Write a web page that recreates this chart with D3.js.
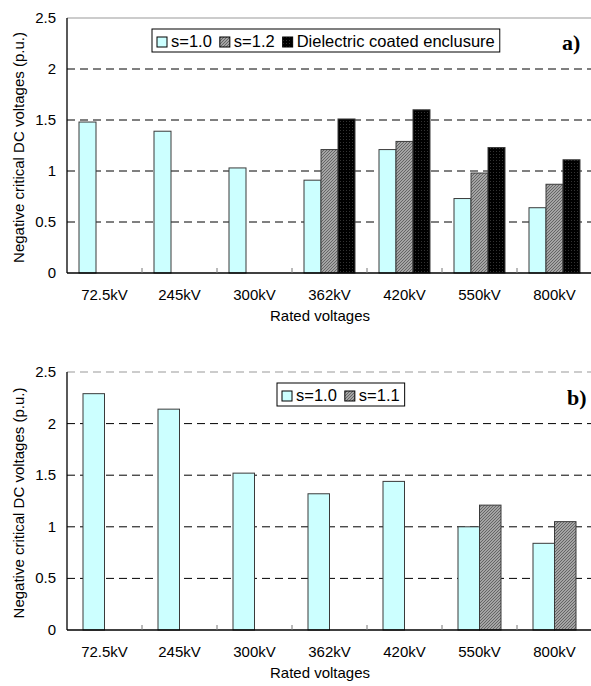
<!DOCTYPE html>
<html>
<head>
<meta charset="utf-8">
<script src="https://cdn.jsdelivr.net/npm/d3@7"></script>
<style>
  body { margin: 0; background: #fff; }
  svg { display: block; font-family: "Liberation Sans", Arial, sans-serif; }
</style>
</head>
<body>
<div id="chart"></div>
<script>
// Data
const categories = ["72.5kV", "245kV", "300kV", "362kV", "420kV", "550kV", "800kV"];
const yTicks = [0, 0.5, 1, 1.5, 2, 2.5];

// panel a)
const aSeries = ["s=1.0", "s=1.2", "Dielectric coated enclusure"];
const aS10 = [1.48, 1.39, 1.03, 0.91, 1.21, 0.73, 0.64];
const aS12 = [null, null, null, 1.21, 1.29, 0.98, 0.87];
const aCoated = [null, null, null, 1.51, 1.60, 1.23, 1.11];

// panel b)
const bSeries = ["s=1.0", "s=1.1"];
const bS10 = [2.29, 2.14, 1.52, 1.32, 1.44, 1.00, 0.84];
const bS11 = [null, null, null, null, null, 1.21, 1.05];

const width = 591, height = 686;

const svg = d3.select("#chart")
  .append("svg")
  .attr("width", width)
  .attr("height", height);

// fill patterns
const defs = svg.append("defs");
const hatch = defs.append("pattern")
  .attr("id", "hatch")
  .attr("patternUnits", "userSpaceOnUse")
  .attr("width", 3).attr("height", 3);
hatch.append("rect").attr("width", 3).attr("height", 3).attr("fill", "#a4a4a4");
hatch.append("path")
  .attr("d", "M-1,1 l2,-2 M0,3 l3,-3 M2,4 l2,-2")
  .attr("stroke", "#555")
  .attr("stroke-width", 0.8);

const dots = defs.append("pattern")
  .attr("id", "dots")
  .attr("patternUnits", "userSpaceOnUse")
  .attr("width", 3).attr("height", 3);
dots.append("rect").attr("width", 3).attr("height", 3).attr("fill", "#000");
dots.append("rect").attr("x", 1).attr("y", 1).attr("width", 1).attr("height", 1).attr("fill", "#333");

const fills = ["#ccffff", "url(#hatch)", "url(#dots)"];

function drawPanel(opts) {
  const g = svg.append("g");
  const x = d3.scaleBand().domain(categories).range([67, 592]);
  const y = d3.scaleLinear().domain([0, 2.5]).range([opts.bottom, opts.top]);

  // grid lines
  g.selectAll(".grid")
    .data(yTicks.filter(d => d > 0 && d < 2.5))
    .enter().append("line")
    .attr("x1", 67).attr("x2", width)
    .attr("y1", d => y(d)).attr("y2", d => y(d))
    .attr("stroke", "#000")
    .attr("stroke-width", 1)
    .attr("stroke-dasharray", "8,5");

  // top border
  g.append("line")
    .attr("x1", 67).attr("x2", width)
    .attr("y1", y(2.5)).attr("y2", y(2.5))
    .attr("stroke", "#999")
    .attr("stroke-width", 1.2)
    .attr("stroke-dasharray", opts.dashedTop ? "8,5" : null);

  // bars
  const groupW = opts.groupW;
  const x1 = d3.scaleBand()
    .domain(d3.range(opts.values.length))
    .range([(x.bandwidth() - groupW) / 2, (x.bandwidth() + groupW) / 2]);

  opts.values.forEach((vals, si) => {
    g.selectAll(".bar" + si)
      .data(vals.map((v, i) => ({ v, c: categories[i] })).filter(d => d.v != null))
      .enter().append("rect")
      .attr("x", d => x(d.c) + x1(si))
      .attr("y", d => y(d.v))
      .attr("width", x1.bandwidth())
      .attr("height", d => y(0) - y(d.v))
      .attr("fill", fills[si])
      .attr("stroke", "#3a3a3a")
      .attr("stroke-width", 1);
  });

  // axes
  g.append("line")
    .attr("x1", 67).attr("x2", 67)
    .attr("y1", y(2.5)).attr("y2", y(0))
    .attr("stroke", "#000").attr("stroke-width", 1.3);
  g.append("line")
    .attr("x1", 67).attr("x2", width)
    .attr("y1", y(0)).attr("y2", y(0))
    .attr("stroke", "#000").attr("stroke-width", 1.3);

  // category separators (inward ticks)
  g.selectAll(".ctick")
    .data(categories.slice(1))
    .enter().append("line")
    .attr("x1", d => x(d)).attr("x2", d => x(d))
    .attr("y1", y(0)).attr("y2", y(0) - 5)
    .attr("stroke", "#777").attr("stroke-width", 1);

  // y tick labels
  g.selectAll(".ylab")
    .data(yTicks)
    .enter().append("text")
    .attr("x", 56)
    .attr("y", d => y(d) + 5)
    .attr("text-anchor", "end")
    .attr("font-size", 15)
    .text(d => d);

  // x tick labels
  g.selectAll(".xlab")
    .data(categories)
    .enter().append("text")
    .attr("x", d => x(d) + x.bandwidth() / 2)
    .attr("y", y(0) + 27)
    .attr("text-anchor", "middle")
    .attr("font-size", 15)
    .text(d => d);

  // axis titles
  g.append("text")
    .attr("transform", `translate(24,${(y(0) + y(2.5)) / 2 + 2}) rotate(-90)`)
    .attr("text-anchor", "middle")
    .attr("font-size", 15)
    .text("Negative critical DC voltages (p.u.)");
  g.append("text")
    .attr("x", 320)
    .attr("y", y(0) + 48)
    .attr("text-anchor", "middle")
    .attr("font-size", 15)
    .text("Rated voltages");

  // panel label
  g.append("text")
    .attr("x", opts.labelX)
    .attr("y", y(2.5) + opts.labelDy)
    .attr("font-family", "'Liberation Serif', 'Times New Roman', serif")
    .attr("font-weight", "bold")
    .attr("font-size", 22)
    .text(opts.label);

  // legend
  const lg = g.append("g");
  const box = lg.append("rect")
    .attr("fill", "#fff")
    .attr("stroke", "#000")
    .attr("stroke-width", 1);
  let cx = opts.legendX + 5;
  const ly = opts.legendY;
  opts.series.forEach((name, si) => {
    lg.append("rect")
      .attr("x", cx).attr("y", ly + 8)
      .attr("width", 10).attr("height", 10)
      .attr("fill", fills[si])
      .attr("stroke", "#000").attr("stroke-width", 1);
    const t = lg.append("text")
      .attr("x", cx + 14).attr("y", ly + 18)
      .attr("font-size", 16.5)
      .text(name);
    cx += 14 + t.node().getComputedTextLength() + 8;
  });
  box.attr("x", opts.legendX).attr("y", ly)
    .attr("width", cx - 8 + 5 - opts.legendX)
    .attr("height", 23);
}

drawPanel({
  top: 18, bottom: 273,
  values: [aS10, aS12, aCoated],
  series: aSeries,
  groupW: 51,
  dashedTop: false,
  label: "a)", labelX: 562, labelDy: 32,
  legendX: 152, legendY: 29
});

drawPanel({
  top: 372, bottom: 630,
  values: [bS10, bS11],
  series: bSeries,
  groupW: 43,
  dashedTop: true,
  label: "b)", labelX: 567, labelDy: 33,
  legendX: 277, legendY: 383
});
</script>
</body>
</html>
